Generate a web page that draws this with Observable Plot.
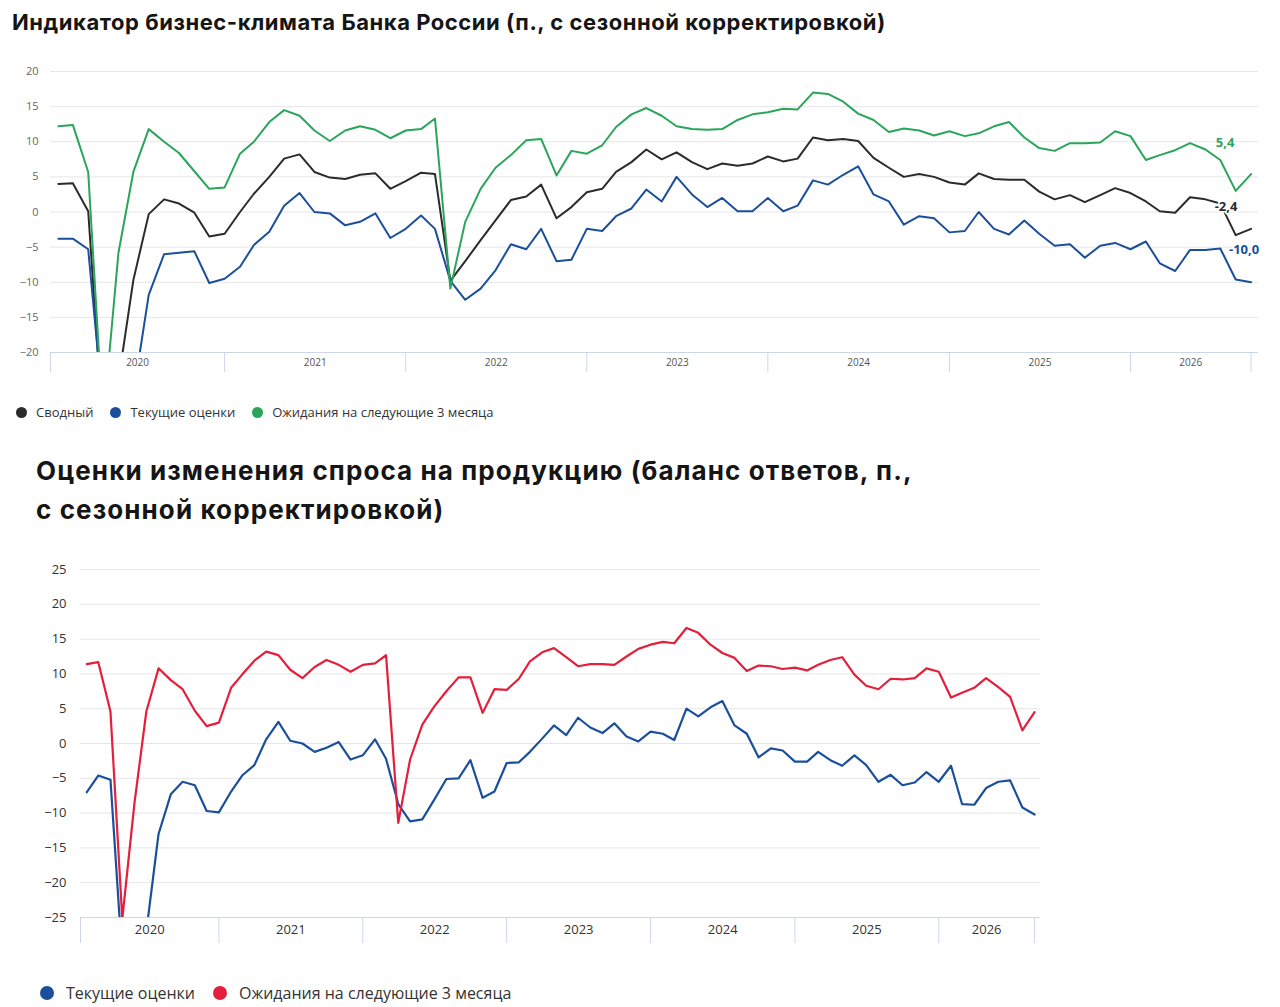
<!DOCTYPE html>
<html lang="ru">
<head>
<meta charset="utf-8">
<script src="https://cdn.jsdelivr.net/npm/d3@7"></script>
<script src="https://cdn.jsdelivr.net/npm/@observablehq/plot@0.6"></script>
<style>
  html, body { margin: 0; padding: 0; background: #fff; }
  body { width: 1280px; height: 1007px; position: relative; overflow: hidden; font-family: "Open Sans", "Noto Sans", sans-serif; }
  .title { position: absolute; font-family: Inter, "Open Sans", sans-serif; font-weight: 700; color: #151515; white-space: nowrap; }
  .legend { position: absolute; display: flex; align-items: center; color: #333; white-space: nowrap; }
  .legend .item { display: flex; align-items: center; }
  .legend .dot { border-radius: 50%; display: inline-block; }
  .chart { position: absolute; left: 0; }
</style>
</head>
<body>
<div class="title" id="t1" style="left:12px; top:8px; font-size:22px; line-height:28px; letter-spacing:0.55px;"></div>
<div class="chart" id="c1" style="top:50px;"></div>
<div class="legend" id="l1" style="left:16px; top:403px; font-size:13px;"></div>
<div class="title" id="t2" style="left:36px; top:451px; font-size:26px; line-height:39px; letter-spacing:1.1px;"></div>
<div class="chart" id="c2" style="top:540px;"></div>
<div class="legend" id="l2" style="left:40px; top:982px; font-size:16px;"></div>
<script>
// ---------- Data ----------
const title1 = "Индикатор бизнес-климата Банка России (п., с сезонной корректировкой)";
const title2Lines = ["Оценки изменения спроса на продукцию (баланс ответов, п.,", "с сезонной корректировкой)"];

// monthly observations: Feb 2020 .. Sep 2026
const months = d3.utcMonth.range(new Date(Date.UTC(2020, 1, 1)), new Date(Date.UTC(2026, 9, 1)));
const yearLabels = ["2020", "2021", "2022", "2023", "2024", "2025", "2026"];

// Chart 1: business climate indicator
const bciNames = ["Сводный", "Текущие оценки", "Ожидания на следующие 3 месяца"];
const bciColors = ["#2b2b2b", "#1b4f9c", "#2aa55a"];
const bciComposite = [
  4.0, 4.1, 0.1, -31, -24, -9.7, -0.3, 1.8, 1.2, -0.1, -3.5,
  -3.1, 0.0, 2.6, 5.0, 7.6, 8.2, 5.7, 4.9, 4.7, 5.3, 5.5, 3.3,
  4.4, 5.6, 5.4, -9.8, -7.0, -4.0, -1.2, 1.7, 2.2, 3.9, -0.9, 0.7,
  2.8, 3.3, 5.7, 7.1, 8.9, 7.5, 8.5, 7.1, 6.1, 6.9, 6.6, 6.9,
  7.9, 7.2, 7.6, 10.6, 10.2, 10.4, 10.1, 7.7, 6.3, 5.0, 5.4, 5.0,
  4.2, 3.9, 5.5, 4.7, 4.6, 4.6, 2.9, 1.8, 2.4, 1.4, 2.4, 3.4,
  2.7, 1.5, 0.1, -0.1, 2.1, 1.8, 1.2, -3.3, -2.4
];
const bciCurrent = [
  -3.8, -3.8, -5.3, -28, -30, -26, -11.8, -6.0, -5.8, -5.6, -10.1,
  -9.5, -7.8, -4.7, -2.8, 0.9, 2.7, 0.0, -0.2, -1.9, -1.4, -0.2, -3.7,
  -2.4, -0.5, -2.4, -9.8, -12.5, -10.9, -8.3, -4.6, -5.3, -2.4, -7.0, -6.8,
  -2.4, -2.7, -0.6, 0.5, 3.2, 1.5, 5.0, 2.5, 0.7, 2.0, 0.1, 0.1,
  2.0, 0.1, 0.9, 4.5, 3.9, 5.3, 6.5, 2.5, 1.5, -1.8, -0.6, -0.9,
  -2.9, -2.7, 0.0, -2.4, -3.2, -1.2, -3.1, -4.8, -4.6, -6.5, -4.8, -4.4,
  -5.3, -4.2, -7.3, -8.4, -5.4, -5.4, -5.2, -9.6, -10.0
];
const bciExpect = [
  12.2, 12.4, 5.7, -30, -5.8, 5.7, 11.8, 10.0, 8.4, 5.8, 3.3,
  3.5, 8.3, 10.0, 12.8, 14.5, 13.7, 11.6, 10.1, 11.6, 12.2, 11.7, 10.5,
  11.6, 11.8, 13.3, -10.9, -1.4, 3.3, 6.3, 8.1, 10.2, 10.4, 5.2, 8.7,
  8.3, 9.5, 12.1, 13.9, 14.8, 13.7, 12.2, 11.8, 11.7, 11.8, 13.1, 13.9,
  14.2, 14.7, 14.6, 17.0, 16.8, 15.7, 14.0, 13.1, 11.4, 11.9, 11.6, 10.9,
  11.5, 10.8, 11.2, 12.2, 12.8, 10.6, 9.1, 8.7, 9.8, 9.8, 9.9, 11.5,
  10.8, 7.4, 8.1, 8.8, 9.8, 8.9, 7.4, 3.0, 5.4
];
const bciEndLabels = ["-2,4", "-10,0", "5,4"];
const bciYTicks = [-20, -15, -10, -5, 0, 5, 10, 15, 20];

// Chart 2: demand assessments
const demNames = ["Текущие оценки", "Ожидания на следующие 3 месяца"];
const demColors = ["#1b4f9c", "#e51f3b"];
const demCurrent = [
  -7.0, -4.6, -5.2, -31, -32, -27, -13.0, -7.3, -5.5, -6.0, -9.7,
  -9.9, -6.9, -4.6, -3.1, 0.6, 3.1, 0.4, 0.0, -1.2, -0.6, 0.2, -2.3,
  -1.7, 0.6, -2.2, -8.7, -11.2, -10.9, -8.1, -5.1, -5.0, -2.4, -7.8, -6.9,
  -2.8, -2.7, -1.2, 0.7, 2.6, 1.2, 3.7, 2.3, 1.5, 2.9, 1.0, 0.3,
  1.7, 1.4, 0.5, 5.0, 3.9, 5.2, 6.1, 2.6, 1.4, -2.0, -0.7, -1.0,
  -2.6, -2.6, -1.2, -2.4, -3.2, -1.7, -3.1, -5.5, -4.5, -6.0, -5.6, -4.1,
  -5.5, -3.2, -8.7, -8.8, -6.4, -5.5, -5.3, -9.2, -10.2
];
const demExpect = [
  11.4, 11.7, 4.6, -25.2, -8.5, 4.6, 10.8, 9.1, 7.8, 4.7, 2.5,
  3.0, 8.0, 9.9, 11.9, 13.2, 12.7, 10.6, 9.4, 11.0, 12.0, 11.3, 10.3,
  11.3, 11.5, 12.7, -11.4, -2.3, 2.7, 5.3, 7.5, 9.5, 9.5, 4.4, 7.8,
  7.7, 9.3, 11.8, 13.1, 13.7, 12.4, 11.1, 11.4, 11.4, 11.3, 12.5, 13.6,
  14.2, 14.6, 14.4, 16.6, 15.9, 14.2, 13.0, 12.3, 10.4, 11.2, 11.1, 10.7,
  10.9, 10.5, 11.3, 12.0, 12.4, 9.9, 8.3, 7.8, 9.3, 9.2, 9.4, 10.8,
  10.3, 6.6, 7.3, 8.0, 9.4, 8.1, 6.7, 1.9, 4.5
];
const demYTicks = [-25, -20, -15, -10, -5, 0, 5, 10, 15, 20, 25];

// ---------- Helpers ----------
const xStart = new Date(Date.UTC(2020, 0, 16));
const xEnd = new Date(Date.UTC(2026, 8, 16));
const boundaries = [xStart, ...yearLabels.slice(1).map(y => new Date(Date.UTC(+y, 0, 1))), months[months.length - 1]];
const centers = boundaries.slice(0, -1).map((b, i) => new Date((+b + +boundaries[i + 1]) / 2));
const yearAt = d => yearLabels[centers.findIndex(c => +c === +d)];
const rows = arr => months.map((date, i) => ({date, value: arr[i]}));

document.getElementById("t1").textContent = title1;
document.getElementById("t2").innerHTML = title2Lines.join("<br>");

function legend(el, names, colors, dot, gap, textGap) {
  names.forEach((n, i) => {
    const it = document.createElement("span");
    it.className = "item";
    it.style.marginRight = gap + "px";
    const d = document.createElement("span");
    d.className = "dot";
    d.style.width = d.style.height = dot + "px";
    d.style.background = colors[i];
    d.style.marginRight = textGap + "px";
    const t = document.createElement("span");
    t.textContent = n;
    it.append(d, t);
    el.append(it);
  });
}
legend(document.getElementById("l1"), bciNames, bciColors, 11, 17, 9);
legend(document.getElementById("l2"), demNames, demColors, 14, 18, 12);

// ---------- Chart 1 ----------
const bciSeries = [bciComposite, bciCurrent, bciExpect];
const endOffsets = [[-25, -22], [-7, -32], [-26, -31]];
const chart1 = Plot.plot({
  width: 1280, height: 332,
  marginLeft: 50, marginRight: 22, marginTop: 21, marginBottom: 30,
  x: {type: "utc", domain: [xStart, xEnd], label: null},
  y: {domain: [-20, 20], label: null},
  style: {fontFamily: "'Open Sans', 'Noto Sans', sans-serif", color: "#666", background: "#fff"},
  marks: [
    Plot.gridY(bciYTicks, {stroke: "#e6e6e6", strokeOpacity: 1}),
    Plot.axisY(bciYTicks, {tickSize: 0, tickPadding: 12, fontSize: 11, fill: "#666"}),
    Plot.axisX(boundaries, {tickSize: 20, stroke: "#ccd6eb", strokeOpacity: 1, tickFormat: () => ""}),
    Plot.axisX(centers, {tickSize: 0, tickPadding: 6, fontSize: 10, fill: "#555", tickFormat: yearAt}),
    Plot.ruleY([-20], {stroke: "#ccd6eb"}),
    ...bciSeries.map((s, k) => Plot.lineY(rows(s), {x: "date", y: "value", stroke: bciColors[k], strokeWidth: 2, clip: true})),
    ...bciSeries.map((s, k) => Plot.text([rows(s)[s.length - 1]], {
      x: "date", y: "value", text: () => bciEndLabels[k], fill: bciColors[k],
      fontWeight: 700, fontSize: 13, dx: endOffsets[k][0], dy: endOffsets[k][1],
      stroke: "#fff", strokeWidth: 3, paintOrder: "stroke"
    }))
  ]
});
document.getElementById("c1").append(chart1);

// ---------- Chart 2 ----------
const demSeries = [demCurrent, demExpect];
const chart2 = Plot.plot({
  width: 1280, height: 410,
  marginLeft: 80, marginRight: 240, marginTop: 29, marginBottom: 33,
  x: {type: "utc", domain: [xStart, xEnd], label: null},
  y: {domain: [-25, 25], label: null},
  style: {fontFamily: "'Open Sans', 'Noto Sans', sans-serif", color: "#333", background: "#fff"},
  marks: [
    Plot.gridY(demYTicks, {stroke: "#e6e6e6", strokeOpacity: 1}),
    Plot.axisY(demYTicks, {tickSize: 0, tickPadding: 14, fontSize: 13, fill: "#333"}),
    Plot.axisX(boundaries, {tickSize: 26, stroke: "#ccd6eb", strokeOpacity: 1, tickFormat: () => ""}),
    Plot.axisX(centers, {tickSize: 0, tickPadding: 7, fontSize: 13, fill: "#333", tickFormat: yearAt}),
    Plot.ruleY([-25], {stroke: "#ccd6eb"}),
    ...demSeries.map((s, k) => Plot.lineY(rows(s), {x: "date", y: "value", stroke: demColors[k], strokeWidth: 2.2, clip: true}))
  ]
});
document.getElementById("c2").append(chart2);
</script>
</body>
</html>
